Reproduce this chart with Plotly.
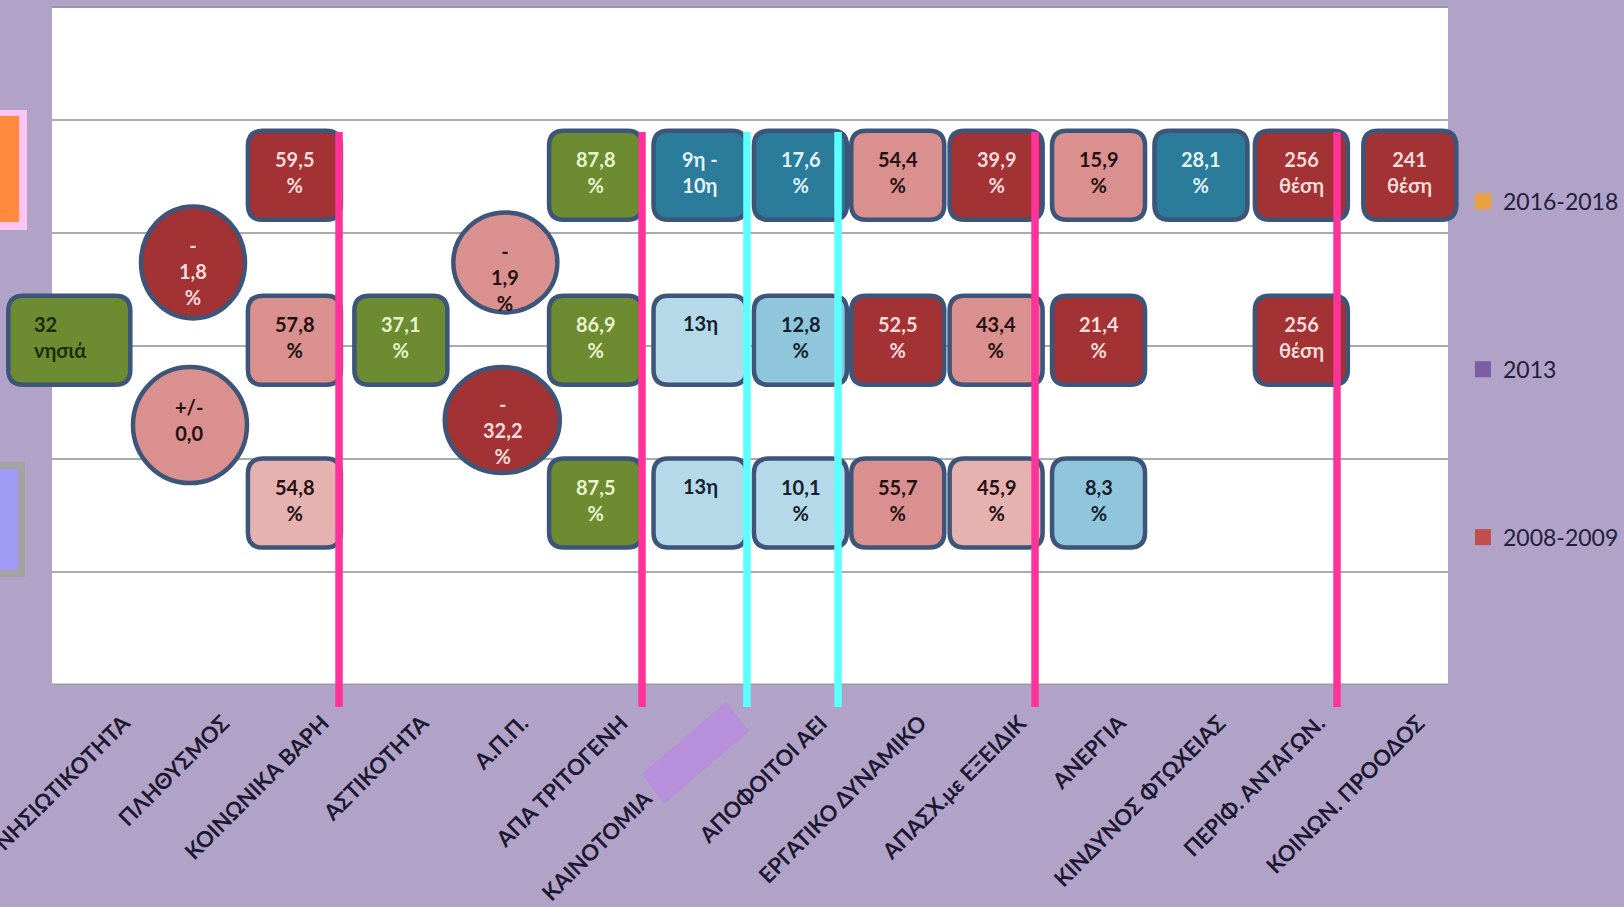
import plotly.graph_objects as go

# ---------------- data ----------------
categories = ["ΝΗΣΙΩΤΙΚΟΤΗΤΑ", "ΠΛΗΘΥΣΜΟΣ", "ΚΟΙΝΩΝΙΚΑ ΒΑΡΗ", "ΑΣΤΙΚΟΤΗΤΑ", "Α.Π.Π.",
              "ΑΠΑ ΤΡΙΤΟΓΕΝΗ", "ΚΑΙΝΟΤΟΜΙΑ", "ΑΠΟΦΟΙΤΟΙ ΑΕΙ", "ΕΡΓΑΤΙΚΟ ΔΥΝΑΜΙΚΟ",
              "ΑΠΑΣΧ.με ΕΞΕΙΔΙΚ", "ΑΝΕΡΓΙΑ", "ΚΙΝΔΥΝΟΣ ΦΤΩΧΕΙΑΣ", "ΠΕΡΙΦ. ΑΝΤΑΓΩΝ.", "ΚΟΙΝΩΝ. ΠΡΟΟΔΟΣ"]
x_values = [0.78, 2, 3, 4.05, 5.05, 5.97, 7, 7.99, 8.95, 9.92, 10.93, 11.94, 12.93, 14]

series_names = ["2016-2018", "2013", "2008-2009"]
series_levels = [4.51, 3.05, 1.61]
values_2016_2018 = [None, None, "59,5\n%", None, None, "87,8\n%", "9η -\n10η", "17,6\n%", "54,4\n%",
                    "39,9\n%", "15,9\n%", "28,1\n%", "256\nθέση", "241\nθέση"]
values_2013 = ["32\nνησιά", None, "57,8\n%", "37,1\n%", None, "86,9\n%", "13η", "12,8\n%", "52,5\n%",
               "43,4\n%", "21,4\n%", None, "256\nθέση", None]
values_2008_2009 = [None, None, "54,8\n%", None, None, "87,5\n%", "13η", "10,1\n%", "55,7\n%",
                    "45,9\n%", "8,3\n%", None, None, None]

change_x = [2, 1.97, 5.08, 5.05]
change_y = [3.74, 2.30, 3.74, 2.345]
change_labels = ["-\n1,8\n%", "+/-\n0,0", "-\n1,9\n%", "-\n32,2\n%"]

# ---------------- style ----------------
BG = "#b1a2c8"
FONT = "Lato, 'Open Sans', sans-serif"
BORDER = "#3d5579"
FILL = {"dark": "#a23233", "pink": "#d9908e", "lpink": "#e6b2b0", "green": "#6d8b30",
        "greenk": "#6d8b30", "teal": "#2b7b9b", "lblue": "#b5d9e8", "mblue": "#90c6dc"}
TXT = {"dark": "#f7dcdc", "pink": "#241010", "lpink": "#241010", "green": "#e8f4cc",
       "greenk": "#1c2a0c", "teal": "#e2f3fa", "lblue": "#14202a", "mblue": "#14202a"}
fill_2016_2018 = [None, None, "dark", None, None, "green", "teal", "teal", "pink", "dark", "pink", "teal", "dark", "dark"]
fill_2013 = ["greenk", None, "pink", "green", None, "green", "lblue", "mblue", "dark", "pink", "dark", None, "dark", None]
fill_2008_2009 = [None, None, "lpink", None, None, "green", "lblue", "lblue", "pink", "lpink", "mblue", None, None, None]
change_fill = ["dark", "pink", "pink", "dark"]
change_size = [(104, 112), (114, 116), (104, 100), (115, 106)]
change_shift = [-9, 5, -15, -10]
legend_colors = ["#e8a13c", "#7b5ea3", "#c0504d"]

# axis mapping (x unit ~101.4 px, full-width plot area)
XR = [0.0966, 16.112]
PL, PR = 52 / 1624, 1448 / 1624
# category label slots (regular spacing, as on a category axis)
label_x = [1.3146 + 0.98225 * i for i in range(len(categories))]
tick_text = [c if c != "ΚΑΙΝΟΤΟΜΙΑ" else c + "\u00a0" * 20 for c in categories]


def rrect(w, h, r):
    a, b = w / 2, h / 2
    return (f"M {-a + r},{-b} L {a - r},{-b} Q {a},{-b} {a},{-b + r} L {a},{b - r} "
            f"Q {a},{b} {a - r},{b} L {-a + r},{b} Q {-a},{b} {-a},{b - r} "
            f"L {-a},{-b + r} Q {-a},{-b} {-a + r},{-b} Z")


fig = go.Figure()

# legend entries
for name, col in zip(series_names, legend_colors):
    fig.add_trace(go.Scatter(x=[None], y=[None], mode="markers", name=name, legendgroup=name,
                             marker=dict(symbol="square", size=16, color=col)))

shapes = []
annotations = []
# plot background, gridlines, axis line
shapes.append(dict(type="rect", xref="paper", yref="paper", x0=PL, x1=PR, y0=0, y1=1,
                   fillcolor="white", line=dict(width=0), layer="below"))
for g in [1, 2, 3, 4, 5]:
    shapes.append(dict(type="line", xref="paper", yref="y", x0=PL, x1=PR, y0=g, y1=g,
                       line=dict(color="#8f8f8f", width=1.6), layer="below"))
shapes.append(dict(type="line", xref="paper", yref="y", x0=PL, x1=PR, y0=0, y1=0,
                   line=dict(color="#9c9c9c", width=3), layer="below"))
shapes.append(dict(type="line", xref="paper", yref="paper", x0=PL, x1=PR, y0=1, y1=1,
                   line=dict(color="#9d93ae", width=2), layer="below"))

# boxes
rows = [(values_2016_2018, fill_2016_2018), (values_2013, fill_2013), (values_2008_2009, fill_2008_2009)]
for level, (vals, fills) in zip(series_levels, rows):
    for i, (v, f) in enumerate(zip(vals, fills)):
        if v is None:
            continue
        w = 122 if i == 0 else 93
        shapes.append(dict(type="path", xref="x", yref="y", xsizemode="pixel", ysizemode="pixel",
                           xanchor=x_values[i], yanchor=level, path=rrect(w, 89, 15),
                           fillcolor=FILL[f], line=dict(color=BORDER, width=4.5), layer="above"))
        lines = v.split("\n")
        if i == 0:
            annotations.append(dict(x=x_values[i], y=level, xref="x", yref="y", showarrow=False,
                                    text="<br>".join(lines), align="left", xanchor="left",
                                    xshift=-37, yshift=3,
                                    font=dict(family=FONT, size=20, color=TXT[f], weight="bold")))
        else:
            ys = 3 if len(lines) > 1 else 17
            annotations.append(dict(x=x_values[i], y=level, xref="x", yref="y", showarrow=False,
                                    text="<br>".join(lines), align="center", yshift=ys,
                                    font=dict(family=FONT, size=20, color=TXT[f], weight="bold")))

# change bubbles
for cx, cy, lab, f, (w, h), ys in zip(change_x, change_y, change_labels, change_fill, change_size, change_shift):
    shapes.append(dict(type="circle", xref="x", yref="y", xsizemode="pixel", ysizemode="pixel",
                       xanchor=cx, yanchor=cy, x0=-w / 2, x1=w / 2, y0=-h / 2, y1=h / 2,
                       fillcolor=FILL[f], line=dict(color=BORDER, width=4.5), layer="above"))
    annotations.append(dict(x=cx, y=cy, xref="x", yref="y", showarrow=False,
                            text="<br>".join(lab.split("\n")), align="center", yshift=ys,
                            font=dict(family=FONT, size=20, color=TXT[f], weight="bold")))

# separator strokes
for xv, col in [(3.44, "#ff3399"), (6.428, "#ff3399"), (10.304, "#ff3399"), (13.282, "#ff3399"),
                (7.463, "#5cffff"), (8.361, "#5cffff")]:
    shapes.append(dict(type="line", xref="x", yref="paper", x0=xv, x1=xv, y0=0.8156, y1=-0.0324,
                       line=dict(color=col, width=7.5), layer="above"))

# purple patch over label area
shapes.append(dict(type="path", xref="paper", yref="paper", layer="above",
                   path="M 0.39532,-0.13127 L 0.44704,-0.02507 L 0.46121,-0.06785 L 0.40887,-0.17552 Z",
                   fillcolor="#b88fdb", line=dict(width=0)))

# slide fragments at left edge
def px_rect(x0, x1, y0, y1, color):
    return dict(type="rect", xref="paper", yref="paper", x0=x0 / 1624, x1=x1 / 1624,
                y0=(685 - y1) / 678, y1=(685 - y0) / 678, fillcolor=color, line=dict(width=0), layer="above")

shapes.append(px_rect(0, 27, 110, 230, "#ffc4f2"))
shapes.append(px_rect(0, 19, 116, 222, "#ff8a3d"))
shapes.append(px_rect(0, 25, 462, 577, "#a3a3a3"))
shapes.append(px_rect(0, 18, 469, 570, "#9f9bf5"))

fig.update_layout(
    width=1624, height=907, autosize=False,
    margin=dict(l=0, r=0, t=7, b=222, autoexpand=False),
    paper_bgcolor=BG, plot_bgcolor="rgba(0,0,0,0)",
    font=dict(family=FONT, color="#1c1830"),
    xaxis=dict(range=XR, tickmode="array", tickvals=label_x, ticktext=tick_text, tickangle=-45,
               showgrid=False, zeroline=False, showline=False, ticks="", automargin=False,
               ticklabeloverflow="allow", ticklabelstandoff=20,
               tickfont=dict(family=FONT, size=22, color="#1c1830", weight="bold")),
    yaxis=dict(range=[0, 6], visible=False, automargin=False),
    showlegend=True,
    legend=dict(x=1463 / 1624, y=0.745, xanchor="left", yanchor="top", bgcolor="rgba(0,0,0,0)",
                font=dict(family=FONT, size=23, color="#20203a"), tracegroupgap=135),
    shapes=shapes, annotations=annotations,
)

fig.write_html("out.html", config={"displayModeBar": False, "responsive": False},
               post_script="document.body.style.margin='0';document.body.style.overflow='hidden';")
